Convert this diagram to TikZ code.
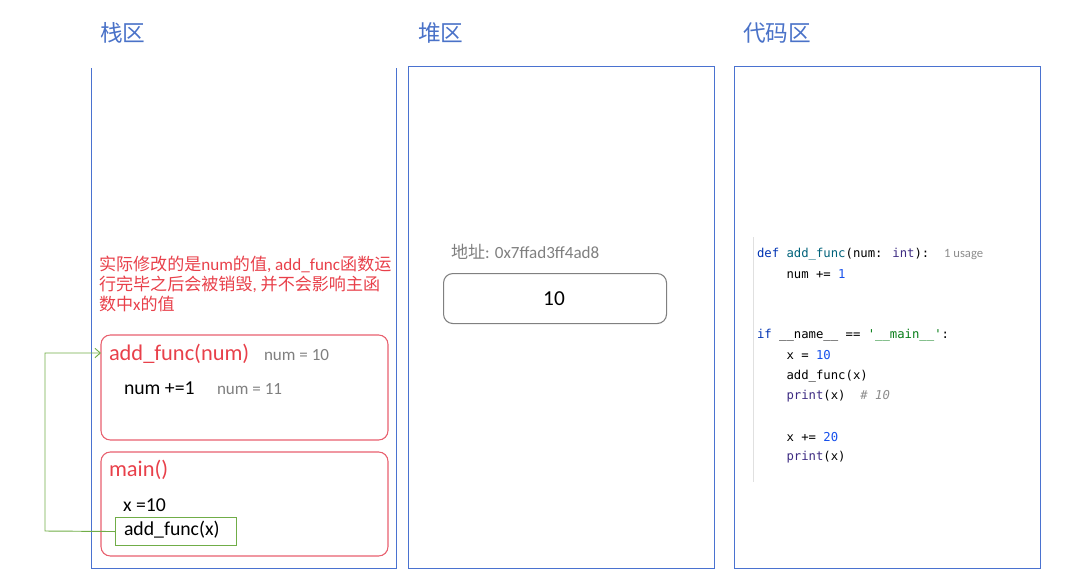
\documentclass[tikz,border=0pt]{standalone}
\usepackage{fontspec}
\setmainfont{Carlito}
\newfontfamily\cjk{Noto Sans CJK SC}
\newfontfamily\codefont{DejaVu Sans Mono}
\usetikzlibrary{arrows.meta}
\definecolor{titleblue}{HTML}{4A72C8}
\definecolor{boxblue}{HTML}{4A72D0}
\definecolor{redtxt}{HTML}{E8404A}
\definecolor{redbox}{HTML}{E8606E}
\definecolor{graytxt}{HTML}{7F7F7F}
\definecolor{greenln}{HTML}{70AD47}
\definecolor{kw}{HTML}{0033B3}
\definecolor{fn}{HTML}{00627A}
\definecolor{numc}{HTML}{1750EB}
\definecolor{strc}{HTML}{067D17}
\definecolor{prc}{HTML}{3D2B82}
\definecolor{cmt}{HTML}{8C8C8C}
\newcommand\zh[1]{{\cjk #1}}
\begin{document}
\begin{tikzpicture}[x=0.75pt,y=-0.75pt,
  lbl/.style={anchor=west,inner sep=0pt,outer sep=0pt},
  title/.style={lbl,text=titleblue,font=\cjk\fontsize{17}{19}\selectfont},
  redline/.style={lbl,text=redtxt,font=\fontsize{12.8}{14}\selectfont},
  frame/.style={draw=redbox,line width=0.8pt,rounded corners=7pt},
  code/.style={lbl,font=\codefont\fontsize{9.2}{11}\selectfont},
  big/.style={lbl,font=\fontsize{14.8}{16}\selectfont},
  note/.style={lbl,text=graytxt,font=\fontsize{12.8}{14}\selectfont},
]
\useasboundingbox (0,0) rectangle (1077,588);
% titles
\node[title] (t1) at (100,33) {栈区};
\node[title] (t2) at (418,33) {堆区};
\node[title] (t3) at (743,33) {代码区};
% areas
\draw[boxblue,line width=0.7pt] (91,68) -- (91,568) -- (396,568) -- (396,68);
\draw[boxblue,line width=0.7pt] (408,66) rectangle (714,568);
\draw[boxblue,line width=0.7pt] (734,66) rectangle (1040,568);
% red note
\node[redline] (r1) at (99,264) {\zh{实际修改的是}num\zh{的值}, add\_func\zh{函数运}};
\node[redline] (r2) at (99,284) {\zh{行完毕之后会被销毁}, \zh{并不会影响主函}};
\node[redline] (r3) at (99,304) {\zh{数中}x\zh{的值}};
% add_func frame
\draw[frame] (101,335) rectangle (388,440);
\node[lbl,text=redtxt,font=\fontsize{16.8}{18}\selectfont] (af) at (109,354) {add\_func(num)};
\node[note] (n10) at (264,355.5) {num = 10};
\node[big] (inc) at (124,388) {num +=1};
\node[note] (n11) at (217,389.5) {num = 11};
% main frame
\draw[frame] (101,452) rectangle (388,556);
\node[lbl,text=redtxt,font=\fontsize{16.8}{18}\selectfont] (mn) at (109,470) {main()};
\node[big] (x10) at (123,505) {x =10};
\node[draw=greenln,line width=0.8pt,minimum width=121*0.75pt,minimum height=28*0.75pt,inner sep=0pt,anchor=north west] (call) at (115,517) {};
\node[big] (callt) at (124,530) {add\_func(x)};
\coordinate (target) at (101,353);
\draw[greenln,line width=0.7pt,-{Straight Barb[length=4pt,width=7pt]}] (call.west) -- (45,531) -- (45,353) -- (target);
% heap
\node[lbl,text=graytxt,font=\fontsize{12.8}{14}\selectfont] (addr) at (451,252) {\zh{地址}: 0x7ffad3ff4ad8};
\node[draw=gray,line width=0.8pt,rounded corners=7pt,minimum width=223*0.75pt,minimum height=50*0.75pt,anchor=north west,inner sep=0pt] (val) at (443,273) {};
\node[font=\fontsize{16}{18}\selectfont,inner sep=0pt] (valt) at (554,299) {10};
% code
\draw[black!12,line width=0.6pt] (753,237) -- (753,482);
\node[code] (c1) at (757,254) {\textcolor{kw}{def} \textcolor{fn}{add\_func}(num: \textcolor{prc}{int}):\ \ {\rmfamily\fontsize{9.5}{11}\selectfont\textcolor{cmt}{1 usage}}};
\node[code] (c2) at (757,274) {\ \ \ \ num += \textcolor{numc}{1}};
\node[code] (c3) at (757,335) {\textcolor{kw}{if} \_\_name\_\_ == \textcolor{strc}{'\_\_main\_\_'}:};
\node[code] (c4) at (757,355) {\ \ \ \ x = \textcolor{numc}{10}};
\node[code] (c5) at (757,376) {\ \ \ \ add\_func(x)};
\node[code] (c6) at (757,396) {\ \ \ \ \textcolor{prc}{print}(x)\ \ \textcolor{cmt}{\itshape \# 10}};
\node[code] (c7) at (757,437) {\ \ \ \ x += \textcolor{numc}{20}};
\node[code] (c8) at (757,457) {\ \ \ \ \textcolor{prc}{print}(x)};
\end{tikzpicture}
\end{document}
